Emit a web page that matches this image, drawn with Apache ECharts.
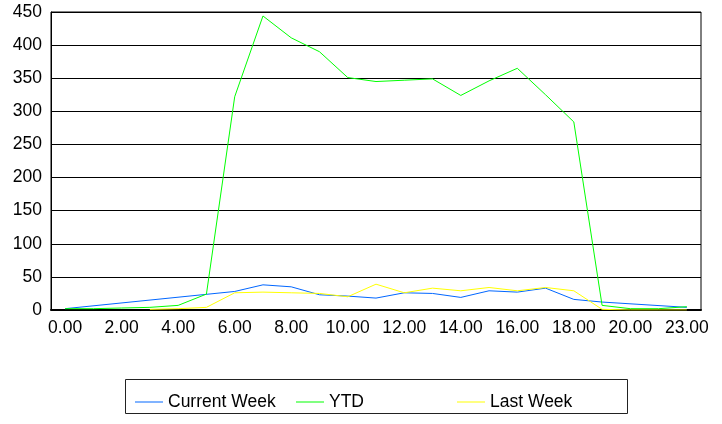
<!DOCTYPE html>
<html>
<head>
<meta charset="utf-8">
<script src="https://cdn.jsdelivr.net/npm/echarts@6/dist/echarts.min.js"></script>
<style>
  html, body { margin: 0; padding: 0; background: #fff; }
  #chart { width: 722px; height: 424px; }
</style>
</head>
<body>
<div id="chart"></div>
<script>
// Hour-of-day categories (every other one is labelled)
const categories = ['0.00','1.00','2.00','3.00','4.00','5.00','6.00','7.00','8.00','9.00','10.00',
  '11.00','12.00','13.00','14.00','15.00','16.00','17.00','18.00','19.00','20.00','21.00','23.00'];

// Series values per hour (null = no reading for that hour)
const currentWeek = [2, null, null, null, null, null, 28, 38, 35, 23, 21, 18, 26, 25, 19, 29, 27, 33, 16, 12, null, null, 4];
const ytd = [2, 2, 3, 4, 7, 24, 322, 444, 411, 390, 351, 345, 347, 349, 324, 346, 365, 325, 284, 7, 2, 2, 5];
const lastWeek = [null, null, null, 1, 2, 4, 26, 27, 26, 25, 20, 39, 26, 33, 29, 34, 29, 34, 29, 1, 0, 0, 0];

const seriesNames = ['Current Week', 'YTD', 'Last Week'];
const seriesColors = ['#0066ff', '#00ff00', '#ffff00'];
const seriesData = [currentWeek, ytd, lastWeek];

const FONT = 'Liberation Sans, Arial, sans-serif';
const legendLefts = [135, 296, 457];

const chart = echarts.init(document.getElementById('chart'), null, { renderer: 'canvas' });
chart.setOption({
  animation: false,
  backgroundColor: '#fff',
  grid: {
    left: 51, right: 21, top: 12, bottom: 114,
    show: true, borderColor: '#000', borderWidth: 1, backgroundColor: 'transparent'
  },
  legend: seriesNames.map((name, i) => ({
    data: [name],
    left: legendLefts[i],
    top: 393,
    padding: 0,
    itemWidth: 28,
    itemHeight: 14,
    icon: 'path://M0,6.5L28,6.5L28,7.5L0,7.5Z',
    textStyle: { fontFamily: FONT, fontSize: 17.5, color: '#000' },
    selectedMode: false
  })),
  graphic: [{
    type: 'rect',
    shape: { x: 125.5, y: 379.5, width: 502, height: 34 },
    style: { fill: 'none', stroke: '#222', lineWidth: 1 }
  }],
  xAxis: {
    type: 'category',
    data: categories,
    boundaryGap: true,
    axisLine: { lineStyle: { color: '#000', width: 2 } },
    axisTick: { show: false },
    axisLabel: { interval: 1, fontFamily: FONT, fontSize: 17.5, color: '#000', margin: 9 }
  },
  yAxis: {
    type: 'value',
    min: 0, max: 450, interval: 50,
    axisLine: { show: true, lineStyle: { color: '#000', width: 1 } },
    axisTick: { show: false },
    axisLabel: { fontFamily: FONT, fontSize: 17.5, color: '#000', margin: 9 },
    splitLine: { lineStyle: { color: '#000', width: 1 } }
  },
  series: seriesNames.map((name, i) => ({
    name: name,
    type: 'line',
    data: seriesData[i],
    symbol: 'none',
    connectNulls: true,
    color: seriesColors[i],
    lineStyle: { color: seriesColors[i], width: 1 }
  }))
});
</script>
</body>
</html>
